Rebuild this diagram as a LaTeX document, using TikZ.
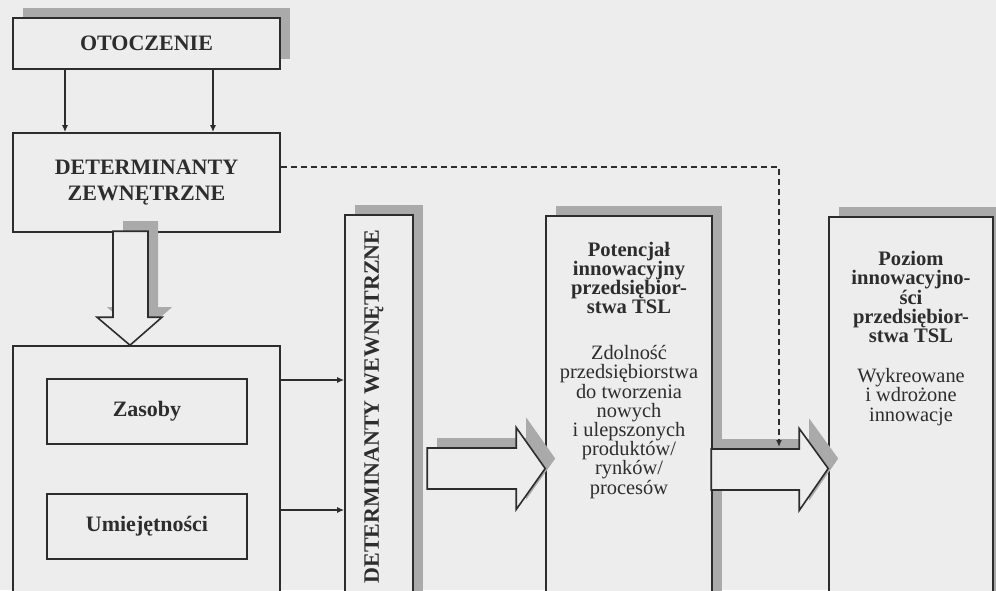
\documentclass[tikz,border=0pt]{standalone}
\usepackage{fontspec}
\setmainfont{Liberation Serif}
\usetikzlibrary{arrows.meta,shadows}
\definecolor{paper}{RGB}{237,237,237}
\definecolor{ink}{RGB}{45,45,45}
\definecolor{shade}{RGB}{170,170,170}
\setlength{\lineskiplimit}{-20pt}

\begin{document}
\begin{tikzpicture}[
        x=0.5pt, y=-0.5pt,
        box/.style={draw=ink, line width=0.8pt, fill=paper, inner sep=0pt, align=center, text=ink},
        shadowbox/.style={box, drop shadow={shadow xshift=5pt, shadow yshift=5pt, opacity=1, fill=shade}},
        head/.style={font=\fontsize{11}{13}\selectfont\bfseries},
        title/.style={font=\fontsize{10.3}{9.6}\selectfont\bfseries},
        body/.style={font=\fontsize{10.2}{9.6}\selectfont},
        label/.style={inner sep=0pt, align=center, text=ink},
        conn/.style={draw=ink, line width=0.7pt, -{Latex[length=3.5pt,width=3pt]}},
        hollow/.style={draw=ink, line width=0.8pt, fill=paper, line join=miter,
            drop shadow={shadow xshift=5pt, shadow yshift=5pt, opacity=1, fill=shade}}
    ]
    \useasboundingbox (0,0) rectangle (996,590);
    \fill[paper] (0,0) rectangle (996,590);
    \clip (0,0) rectangle (996,590);

    % left column
    \node[shadowbox, head, minimum width=133.5pt, minimum height=25.5pt] (otocz) at (146.5,43.5) {OTOCZENIE};
    \node[box, head, minimum width=133.5pt, minimum height=49.5pt] (detzew) at (146.5,182.5) {DETERMINANTY\\ZEWNĘTRZNE};
    \node[box, minimum width=133.5pt, minimum height=137pt] (zasall) at (146.5,483) {};
    \node[box, head, minimum width=100pt, minimum height=32.5pt] (zasoby) at (147,411.5) {Zasoby};
    \node[box, head, minimum width=100pt, minimum height=32.5pt] (umiej) at (147,526.5) {Umiejętności};

    % right part
    \node[shadowbox, minimum width=34pt, minimum height=202.5pt] (detwewn) at (379,417.5) {};
    \node[label, head, rotate=90] (detwewntxt) at (374,406.5) {DETERMINANTY WEWNĘTRZNE};
    \node[shadowbox, minimum width=83pt, minimum height=202pt] (poten) at (629,418) {};
    \node[label, title] (potentitle) at (629,278) {Potencjał\\innowacyjny\\przedsiębior-\\stwa TSL};
    \node[label, body] (potentxt) at (629,422) {Zdolność\\przedsiębiorstwa\\do tworzenia\\nowych\\i ulepszonych\\produktów/\\rynków/\\procesów};
    \node[shadowbox, minimum width=82pt, minimum height=201.5pt] (poziom) at (911,418.5) {};
    \node[label, title] (poziomtitle) at (911,297) {Poziom\\innowacyjno-\\ści\\przedsiębior-\\stwa TSL};
    \node[label, body] (poziomtxt) at (911,397) {Wykreowane\\i wdrożone\\innowacje};

    % connectors
    \coordinate (r1) at (0,380);
    \coordinate (r2) at (0,510);
    \coordinate (r3) at (0,468.5);
    \coordinate (r4) at (130,0);
    \coordinate (bend) at (779,167);
    \coordinate (dashend) at (779,447);
    \draw[conn] ([xshift=-40.75pt]otocz.south) -- ([xshift=-40.75pt]detzew.north);
    \draw[conn] ([xshift=33.25pt]otocz.south) -- ([xshift=33.25pt]detzew.north);
    \draw[conn] (zasall.east |- r1) -- (detwewn.west |- r1);
    \draw[conn] (zasall.east |- r2) -- (detwewn.west |- r2);

    % hollow arrows
    \draw[hollow] (zasall.north -| r4) -- ++(-33,-28) -- ++(16,0) -- ++(0,-86) -- ++(35,0) -- ++(0,86) -- ++(14,0) -- cycle;
    \draw[hollow] (poten.west |- r3) -- ++(-29,-41) -- ++(0,20.5) -- ++(-89,0) -- ++(0,41) -- ++(89,0) -- ++(0,20.5) -- cycle;
    \draw[hollow] (poziom.west |- r3) -- ++(-29,-40) -- ++(0,20.5) -- ++(-88,0) -- ++(0,41) -- ++(88,0) -- ++(0,20.5) -- cycle;

    \draw[conn, dash pattern=on 3pt off 2pt] (detzew.east |- bend) -- (bend) -- (dashend);
\end{tikzpicture}
\end{document}
